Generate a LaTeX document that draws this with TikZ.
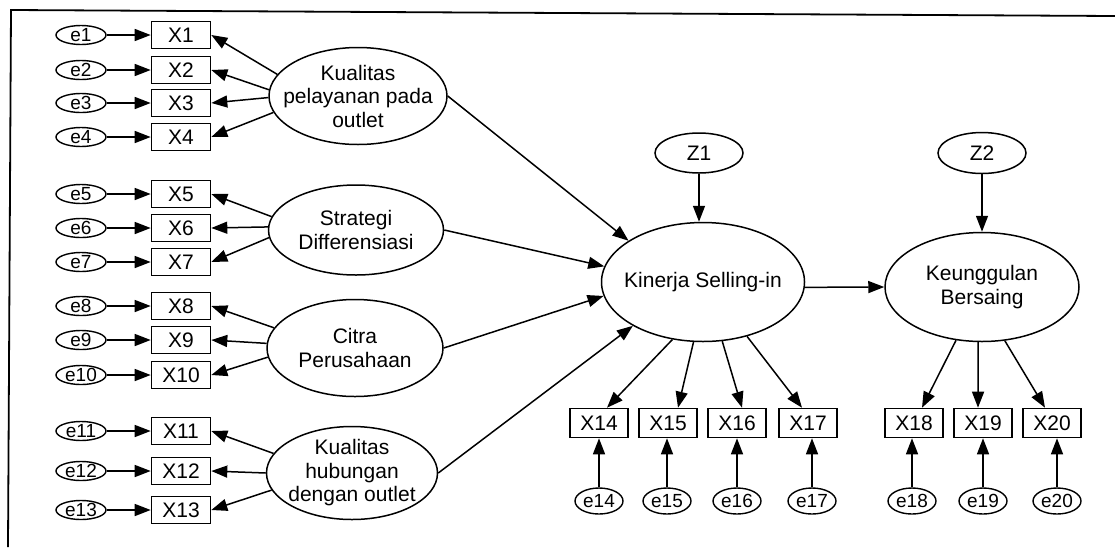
\documentclass[tikz,border=0pt]{standalone}
\usepackage{fontspec}
\setmainfont{Liberation Sans}
\usetikzlibrary{arrows.meta,shapes.geometric,calc}
\begin{document}
\begin{tikzpicture}[x=1pt,y=-1pt,
  lat/.style={draw, ellipse, line width=1.5pt, inner sep=0pt},
  lattext/.style={inner sep=0pt, align=center, font=\fontsize{21}{23.5}\selectfont},
  obs/.style={draw, rectangle, line width=1.6pt, minimum width=59pt, minimum height=27pt, inner sep=0pt, font=\fontsize{21}{24}\selectfont},
  obsb/.style={obs, minimum width=58pt, minimum height=29pt},
  err/.style={draw, ellipse, line width=1.4pt, minimum width=50pt, minimum height=19pt, inner sep=0pt, font=\fontsize{19}{21}\selectfont},
  errb/.style={err, minimum width=48pt, minimum height=26pt},
  arr/.style={line width=1.5pt, -{Triangle[length=16pt,width=12pt]}}
]
\useasboundingbox (0,0) rectangle (1115,547);
% frame
\draw[line width=1.8pt] (1115,16) -- (11,10) -- (8,547);

% latent exogenous
\node[lat, minimum width=178pt, minimum height=97pt] (K1) at (358,96) {};
\node[lattext] (K1t) at (K1) {Kualitas\\pelayanan pada\\outlet};
\node[lat, minimum width=175pt, minimum height=90pt] (K2) at (356,230) {};
\node[lattext] (K2t) at (K2) {Strategi\\Differensiasi};
\node[lat, minimum width=176pt, minimum height=97pt] (K3) at (355,348) {};
\node[lattext] (K3t) at (K3) {Citra\\Perusahaan};
\node[lat, minimum width=171pt, minimum height=93pt] (K4) at (352,473) {};
\node[lattext] (K4t) at (K4) {Kualitas\\hubungan\\dengan outlet};

% endogenous
\node[lat, minimum width=203pt, minimum height=119pt] (KS) at (703,282) {};
\node[lattext] (KSt) at (KS) {Kinerja Selling-in};
\node[lat, minimum width=194pt, minimum height=109pt] (KB) at (982,287) {};
\node[lattext] (KBt) at (KB) {Keunggulan\\Bersaing};
\node[lat, minimum width=88pt, minimum height=40pt, font=\fontsize{21}{24}\selectfont] (Z1) at (699,153) {Z1};
\node[lat, minimum width=88pt, minimum height=41pt, font=\fontsize{21}{24}\selectfont] (Z2) at (982,153) {Z2};

% left indicators
\foreach \i/\y in {1/35,2/70,3/103,4/137,5/194,6/228,7/262,8/306,9/340,10/375,11/431,12/471,13/510}{
  \node[obs] (X\i) at (181,\y) {X\i};
  \node[err] (e\i) at (81,\y) {e\i};
  \draw[arr] (e\i) -- (X\i);
}

% bottom indicators
\foreach \i/\x/\ex in {14/599/599,15/668/667,16/737/737,17/808/812,18/914/912,19/983/983,20/1052/1057}{
  \node[obsb] (X\i) at (\x,423) {X\i};
  \node[errb] (e\i) at (\ex,501) {e\i};
  \draw[arr] (e\i.north) -- (e\i.north |- X\i.south);
}

% loadings of exogenous
\draw[arr] (K1.165) -- (X1.east);
\draw[arr] (K1.176) -- (X2.east);
\draw[arr] (K1.181) -- (X3.east);
\draw[arr] (K1.191) -- (X4.east);
\draw[arr] (K2.171) -- (X5.east);
\draw[arr] (K2.178) -- (X6.east);
\draw[arr] (K2.185) -- (X7.east);
\draw[arr] (K3.166) -- (X8.east);
\draw[arr] (K3.177) -- (X9.east);
\draw[arr] (K3.186) -- (X10.east);
\draw[arr] (K4.166) -- (X11.east);
\draw[arr] (K4.180) -- (X12.east);
\draw[arr] (K4.192) -- (X13.east);

% structural paths
\draw[arr] (K1.east) -- (KS.151);
\draw[arr] (K2.east) -- (KS.171);
\draw[arr] (K3.east) -- (KS.188);
\draw[arr] (K4.east) -- (KS.212);
\draw[arr] (Z1.south) -- (Z1.south |- KS.north);
\draw[arr] (Z2.south) -- (Z2.south |- KB.north);
\draw[arr] (KS.357) -- (KB.180);

% loadings of endogenous
\draw[arr] (KS.242) -- ($(X14.north)+(8,0)$);
\draw[arr] (KS.261) -- ($(X15.north)+(10,0)$);
\draw[arr] (KS.288) -- ($(X16.north)+(5,0)$);
\draw[arr] (KS.309) -- ($(X17.north)+(-6,0)$);
\draw[arr] (KB.244) -- ($(X18.north)+(8,0)$);
\draw[arr] (KB.266) -- ($(X19.north)+(-5,0)$);
\draw[arr] (KB.293) -- ($(X20.north)+(-7,0)$);
\end{tikzpicture}
\end{document}
